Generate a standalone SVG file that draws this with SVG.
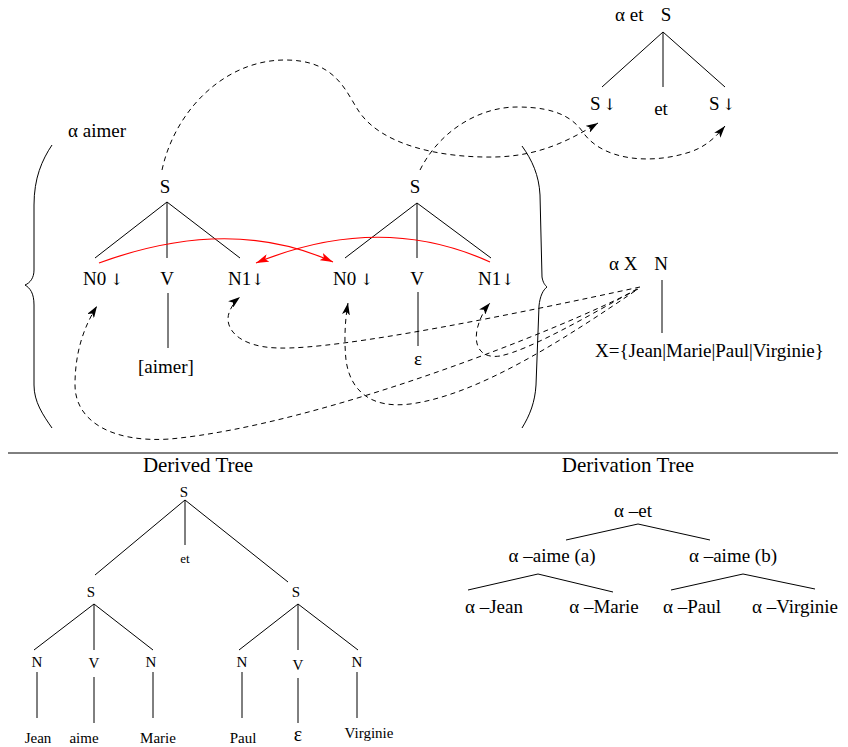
<svg xmlns="http://www.w3.org/2000/svg" width="848" height="747" viewBox="0 0 848 747">
<style>
text{font-family:"Liberation Serif","Times New Roman",serif;fill:#000}
.t{font-size:19px}
.s{font-size:15px}
.h{font-size:21px}
.c{text-anchor:middle}
.a{fill:#000;font-family:"DejaVu Serif","Liberation Serif",serif;font-size:16px}
.e{stroke:#000;stroke-width:1;fill:none}
.d{stroke:#000;stroke-width:1;fill:none;stroke-dasharray:5 4}
.r{stroke:#ff0000;stroke-width:1.2;fill:none}
</style>
<defs>
<marker id="ah" markerWidth="13" markerHeight="8" refX="12" refY="4" orient="auto" markerUnits="userSpaceOnUse"><path d="M0,0 L12,4 L0,8 L3,4 z" fill="#000"/></marker>
<marker id="rh" markerWidth="14" markerHeight="8" refX="13" refY="4" orient="auto" markerUnits="userSpaceOnUse"><path d="M0,0 L13,4 L0,8 L3,4 z" fill="#ff0000"/></marker>
</defs>

<g id="alpha-et">
<text class="t" x="615" y="21">α et</text>
<text class="t c" x="666" y="21">S</text>
<path class="e" d="M663,32 L602,87 M663,32 L663,87 M663,32 L725,87"/>
<text class="t" x="590" y="110">S<tspan class="a" x="603">↓</tspan></text>
<text class="t c" x="661" y="115">et</text>
<text class="t" x="709" y="110">S<tspan class="a" x="722">↓</tspan></text>
</g>

<g id="alpha-aimer-label">
<text class="t" x="68" y="137">α aimer</text>
<path class="e" d="M52,145 C42,160 34,178 34,205 L34,270 C34,278 30,283 25,285 C30,288 34,293 34,305 L34,385 C34,402 43,415 52,428"/>
<path class="e" d="M522,146 C532,160 539,175 540,195 L542,277 C543,283 545,285 547,287 C543,290 540,296 539,306 L536,385 C535,402 530,415 522,428"/>
</g>

<g id="tree-aimer-a">
<text class="t c" x="165" y="193">S</text>
<path class="e" d="M167,202 L95,258 M167,202 L167,258 M167,202 L240,258"/>
<text class="t" x="83" y="285">N0<tspan class="a" x="110">↓</tspan></text>
<text class="t c" x="167" y="285">V</text>
<text class="t" x="228" y="285">N1<tspan class="a" x="251">↓</tspan></text>
<path class="e" d="M168,293 L168,348"/>
<text class="t" x="138" y="373">[aimer]</text>
</g>

<g id="tree-aimer-b">
<text class="t c" x="415" y="193">S</text>
<path class="e" d="M417,203 L345,258 M417,203 L417,258 M417,203 L491,258"/>
<text class="t" x="333" y="285">N0<tspan class="a" x="360">↓</tspan></text>
<text class="t c" x="417" y="285">V</text>
<text class="t" x="478" y="285">N1<tspan class="a" x="501">↓</tspan></text>
<path class="e" d="M418,292 L418,346"/>
<text class="t c" x="418" y="365">ε</text>
</g>

<g id="alpha-X">
<text class="t" x="609" y="270">α X</text>
<text class="t c" x="661" y="270">N</text>
<path class="e" d="M662,280 L662,333"/>
<text class="t" x="595" y="357">X={Jean|Marie|Paul|Virginie}</text>
</g>

<g id="connectors">
<path class="r" marker-end="url(#rh)" d="M99,263 Q230,215 333,262"/>
<path class="r" marker-end="url(#rh)" d="M490,262 Q380,212 256,263"/>
<path class="d" marker-end="url(#ah)" d="M162,170 C175,110 225,60 285,60 C335,60 345,90 358,110 C380,145 440,158 495,157 C540,156 570,140 598,123"/>
<path class="d" marker-end="url(#ah)" d="M420,170 C440,130 480,107 517,107 C560,107 575,120 585,135 C605,160 650,165 690,152 C705,147 715,138 725,126"/>
<path class="d" marker-end="url(#ah)" d="M640,287 C520,313 340,350 278,348 C238,347 224,328 229,313 C231,307 235,301 240,297"/>
<path class="d" marker-end="url(#ah)" d="M638,289 C560,330 320,425 170,439 C110,443 75,420 75,385 C75,350 85,325 97,306"/>
<path class="d" marker-end="url(#ah)" d="M635,291 C570,335 480,395 410,404 C370,409 350,390 346,360 C344,340 345,320 348,303"/>
<path class="d" marker-end="url(#ah)" d="M637,289 C590,315 530,350 500,356 C480,359 474,345 477,330 C479,320 484,310 490,303"/>
</g>

<g id="separator">
<path class="e" d="M8,453 L838,453"/>
</g>

<g id="derived-tree">
<text class="h c" x="198" y="472">Derived Tree</text>
<text class="s c" x="184" y="497">S</text>
<path class="e" d="M185,500 L95,575 M185,500 L185,545 M185,500 L288,582"/>
<text class="c" style="font-size:13px" x="185" y="563">et</text>
<text class="s c" x="91" y="597">S</text>
<text class="s c" x="296" y="597">S</text>
<path class="e" d="M94,604 L34,650 M94,604 L94,650 M94,604 L153,650"/>
<path class="e" d="M298,604 L239,650 M298,604 L298,650 M298,604 L358,650"/>
<text class="s c" x="37" y="667">N</text>
<text class="s c" x="94" y="668">V</text>
<text class="s c" x="151" y="667">N</text>
<text class="s c" x="242" y="667">N</text>
<text class="s c" x="298" y="670">V</text>
<text class="s c" x="357" y="667">N</text>
<path class="e" d="M37,672 L37,718 M94,677 L94,723 M153,672 L153,718 M242,672 L242,718 M298,678 L298,723 M357,672 L357,718"/>
<text class="s c" x="38" y="743">Jean</text>
<text class="s c" x="84" y="743">aime</text>
<text class="s c" x="158" y="743">Marie</text>
<text class="s c" x="243" y="743">Paul</text>
<text class="c" style="font-size:20px" x="298" y="741">ε</text>
<text class="s c" x="369" y="738">Virginie</text>
</g>

<g id="derivation-tree">
<text class="h c" x="628" y="472">Derivation Tree</text>
<text class="t c" x="633" y="517">α –et</text>
<path class="e" d="M638,524 L566,540 M638,524 L710,540"/>
<text class="t c" x="552" y="562">α –aime (a)</text>
<text class="t c" x="733" y="562">α –aime (b)</text>
<path class="e" d="M538,574 L468,590 M538,574 L613,592 M743,574 L671,590 M743,574 L815,589"/>
<text class="t c" x="494" y="613">α –Jean</text>
<text class="t c" x="604" y="613">α –Marie</text>
<text class="t c" x="692" y="613">α –Paul</text>
<text class="t c" x="795" y="613">α –Virginie</text>
</g>
</svg>
